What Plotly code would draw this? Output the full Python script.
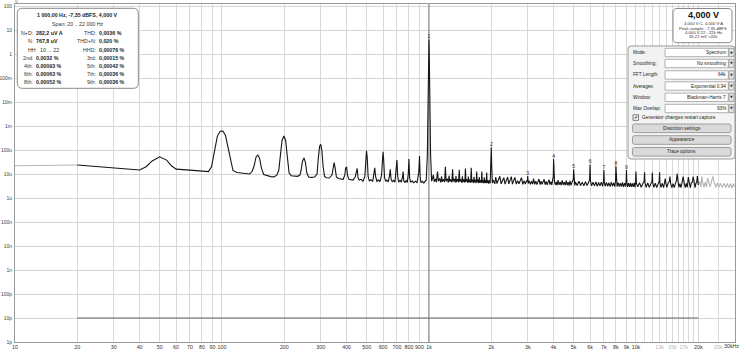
import plotly.graph_objects as go

# ---------------- data ----------------
# out-of-band part below 20 Hz (light grey)
oob_low_hz = [10, 12, 14, 17, 20]
oob_low_uv = [22, 22.5, 23, 23.5, 23.7]

# in-band, 20 Hz .. ~960 Hz
lf_hz = [20, 25, 30, 35, 40, 43, 46, 50, 54, 57, 60, 70, 80, 86, 89, 92, 95, 98, 101, 104, 107, 110, 113, 118,
         128, 136, 140, 143, 146, 149, 152, 155, 159, 165, 172, 178, 184, 188, 191, 195, 199, 203, 207, 211, 216,
         225, 232, 238, 241, 245, 249, 253, 257, 262, 270, 280, 288, 292, 296, 300, 304, 308, 313, 320, 330, 340,
         344, 348, 352, 357, 365, 375, 385, 392, 396, 400, 404, 410, 420, 430, 440, 446, 450, 454, 460, 470, 480,
         490, 495, 499, 503, 508, 515, 525, 535, 542, 547, 552, 560, 570, 580, 590, 596, 600, 604, 610, 618, 625,
         635, 644, 650, 656, 665, 675, 685, 694, 700, 706, 714, 725, 735, 744, 750, 756, 765, 775, 785, 794, 800,
         806, 815, 830, 845, 860, 875, 893, 900, 907, 915, 930, 945, 958]
lf_uv = [23.7, 20.5, 18.7, 17.2, 14.7, 20, 35, 52, 38, 22, 16, 14.5, 13.3, 12.6, 20, 90, 380, 600, 620, 400, 130, 35,
         14, 11.5, 10.7, 10, 13, 22, 50, 62, 45, 18, 9.5, 8.5, 7.8, 7.6, 9, 14, 60, 250, 383, 250, 50, 11, 8.5,
         8.5, 8.0, 9, 14, 35, 47, 30, 11, 7.5, 7.2, 7.5, 10, 45, 140, 173, 90, 20, 8, 7.0, 6.8, 9,
         20, 30, 18, 7.5, 6.5, 6.2, 6.0, 9, 18, 20, 9, 6.0, 5.8, 5.6, 7.5, 14, 17, 7, 5.6, 6.0, 5.0,
         8, 60, 93, 50, 8, 5.2, 5.8, 4.9, 9, 18, 8, 5.0, 5.6, 4.8, 9, 60, 85, 40, 7, 4.9, 5.6,
         4.7, 8, 15.8, 6, 4.8, 5.4, 4.6, 12, 38, 8, 4.6, 5.4, 4.6, 7, 12.6, 5.0, 4.5, 5.3, 4.4, 10, 42,
         7, 4.5, 5.2, 4.3, 5.0, 4.3, 12, 56, 7, 4.4, 5.0, 4.2, 5.0]

# fundamental, 1 kHz
fund_hz = [970, 982, 990, 995, 1000, 1005, 1010, 1018, 1030]
fund_uv = [5.5, 60, 4000, 300000, 4000000, 300000, 4000, 60, 5.0]

# in-band, ~1 kHz .. 20 kHz (noise floor with harmonics and side spurs)
hf_hz = [1040, 1050, 1060, 1075, 1085, 1100, 1110, 1125, 1140, 1150, 1160, 1175, 1190, 1200, 1210, 1225, 1240, 1250,
         1260, 1275, 1290, 1300, 1310, 1325, 1340, 1350, 1360, 1375, 1390, 1400, 1410, 1425, 1440, 1450, 1460,
         1475, 1490, 1500, 1510, 1525, 1540, 1550, 1560, 1575, 1590, 1600, 1610, 1625, 1640, 1650, 1660, 1675,
         1690, 1700, 1710, 1725, 1740, 1750, 1760, 1775, 1790, 1800, 1810, 1825, 1840, 1850, 1860, 1875, 1890,
         1900, 1910, 1925, 1940, 1960, 1975, 1990, 2000, 2010, 2025,
         2040, 2080, 2100, 2130, 2160, 2200, 2230, 2260, 2300, 2330, 2360, 2400, 2430, 2460, 2500, 2530, 2560,
         2600, 2640, 2680, 2720, 2760, 2800, 2840, 2880, 2920, 2960, 2985, 3000, 3015, 3050, 3090, 3130, 3170,
         3200, 3240, 3280, 3320, 3360, 3400, 3440, 3480, 3520, 3560, 3600, 3640, 3680, 3720, 3760, 3800, 3840,
         3880, 3920, 3960, 3985, 4000, 4015, 4040, 4080, 4120, 4160, 4200, 4250, 4300, 4350, 4400, 4450, 4500,
         4550, 4600, 4650, 4700, 4750, 4800, 4850, 4900, 4980, 5000, 5020, 5060,
         5100, 5200, 5300, 5400, 5500, 5600, 5700, 5800, 5900, 5970, 6000, 6030, 6100, 6200, 6300, 6400, 6500,
         6600, 6700, 6800, 6900, 6970, 7000, 7030, 7100, 7200, 7300, 7400, 7500, 7600, 7700, 7800, 7900, 7965,
         8000, 8035, 8100, 8200, 8300, 8400, 8500, 8600, 8700, 8800, 8900, 8960, 9000, 9040, 9100, 9200, 9300,
         9400, 9500, 9600, 9700, 9800, 9900, 9955, 10000, 10045,
         10200, 10400, 10600, 10800, 10950, 11000, 11050, 11200, 11400, 11600, 11800, 11950, 12000, 12050, 12200,
         12400, 12600, 12800, 12950, 13000, 13050, 13200, 13400, 13600, 13750, 13850, 13950, 14100, 14300, 14500,
         14600, 14700, 14900, 15100, 15300, 15500, 15700, 15800, 15900, 16100, 16300, 16500, 16700, 16900, 17100,
         17300, 17500, 17700, 17900, 18100, 18300, 18500, 18700, 18900, 19100, 19300, 19500, 19650, 19800, 19950,
         20000]
hf_uv = [6.5, 9.1, 4.8, 6.2, 4.6, 12.6, 5.0, 6.5, 4.5, 8.0, 4.7, 6.0, 4.6, 20, 5.0, 6.4, 4.4, 8.5,
         4.8, 6.0, 4.5, 15.8, 4.9, 6.3, 4.4, 8.3, 4.6, 6.1, 4.5, 15, 4.8, 6.0, 4.3, 8.0, 4.6,
         5.9, 4.4, 17, 4.7, 6.0, 4.3, 7.8, 4.5, 5.8, 4.3, 18, 4.6, 5.9, 4.2, 7.6, 4.5, 5.7,
         4.2, 12.6, 4.5, 5.8, 4.2, 7.5, 4.4, 5.6, 4.2, 12.6, 4.4, 5.6, 4.1, 7.2, 4.3, 5.5, 4.1,
         11.5, 4.3, 5.5, 4.0, 5.6, 4.1, 20, 129, 20, 4.2,
         5.6, 3.9, 7.5, 4.0, 5.5, 8.0, 3.9, 5.4, 7.0, 3.8, 5.5, 7.5, 3.9, 5.3, 7.8, 3.8, 5.4,
         7.2, 3.8, 5.2, 3.9, 5.3, 7.0, 3.7, 5.2, 3.8, 5.1, 5.0, 8.3, 4.0, 5.2, 3.7, 5.0, 3.8,
         6.5, 3.7, 5.0, 3.6, 5.1, 6.2, 3.6, 5.0, 3.7, 4.9, 6.0, 3.6, 4.9, 3.5, 4.8, 5.8, 3.6,
         4.8, 3.5, 5.0, 8, 42, 8, 4.8, 3.5, 4.7, 3.4, 5.6, 3.5, 4.7, 3.4, 5.4, 3.5, 4.6,
         3.4, 5.3, 3.4, 4.6, 3.3, 5.2, 3.4, 4.5, 6, 15.8, 5, 3.3,
         4.6, 3.3, 5.0, 3.3, 4.5, 3.2, 4.8, 3.3, 4.4, 6, 25, 5, 3.2, 4.5, 3.2, 4.7, 3.1,
         4.4, 3.2, 4.6, 3.1, 5, 14.7, 4.5, 3.1, 4.5, 3.1, 4.3, 3.0, 4.6, 3.1, 4.3, 3.0, 5,
         21.5, 4.5, 3.0, 4.4, 3.0, 4.2, 3.0, 4.5, 2.9, 4.2, 3.0, 5, 14.7, 4.4, 2.9, 4.2, 2.9,
         4.3, 2.9, 4.1, 2.9, 4.3, 2.8, 5, 12.6, 4.2,
         2.9, 4.3, 2.8, 4.0, 5, 11.7, 4.5, 2.8, 4.2, 2.8, 4.0, 5, 11.4, 4.4, 2.8,
         4.1, 2.7, 4.0, 5, 11.7, 4.3, 2.8, 4.1, 2.7, 4.5, 6.5, 4.0, 2.8, 4.1, 5,
         7.8, 4.2, 2.7, 4.0, 2.7, 4.3, 5.5, 10.3, 5, 2.8, 4.0, 2.7, 4.5, 7.8, 4.2,
         2.7, 4.1, 2.8, 7.4, 4.0, 2.7, 4.2, 4.5, 7.8, 4.1, 2.7, 4.2, 4.5, 8.3, 4.0,
         3.5]

# out-of-band part above 20 kHz (light grey)
oob_high_hz = [20000, 20300, 20600, 20800, 21000, 21300, 21600, 21900, 22200, 22500, 22800, 23100, 23500, 23900,
               24300, 24700, 25100, 25600, 26100, 26600, 27100, 27600, 28100, 28600, 29100, 29600, 30000]
oob_high_uv = [3.5, 4.8, 2.9, 8, 4.5, 2.8, 4.6, 2.9, 6.8, 4.5, 2.9, 4.4, 8, 4.3,
               2.8, 4.2, 2.8, 4.1, 2.7, 4.1, 2.7, 4.0, 2.7, 4.0, 2.6, 3.9, 3.0]

# second (reference) trace at 10 pV, 20 Hz .. 20 kHz
ref_hz = [20, 20000]
ref_v = [1e-11, 1e-11]

# harmonic markers
harm_no = ["1", "2", "3", "4", "5", "6", "7", "8", "9"]
harm_hz = [1000, 2000, 3000, 4000, 5000, 6000, 7000, 8000, 9000]
harm_uv = [4000000, 129, 8.3, 42, 15.8, 25, 14.7, 21.5, 14.7]

cursor_hz = 1000

# axis ticks
y_tick_v = [1e-12, 1e-11, 1e-10, 1e-9, 1e-8, 1e-7, 1e-6, 1e-5, 1e-4, 1e-3, 1e-2, 1e-1, 1, 10, 100]
y_tick_text = ["1p", "10p", "100p", "1n", "10n", "100n", "1u", "10u", "100u", "1m", "10m", "100m", "1", "10", "100"]
x_tick_hz = [10, 20, 30, 40, 50, 60, 70, 80, 90, 100, 200, 300, 400, 500, 600, 700, 800, 900,
             1000, 2000, 3000, 4000, 5000, 6000, 7000, 8000, 9000, 10000, 11000, 12000, 13000, 14000,
             15000, 16000, 17000, 18000, 19000, 20000, 25000, 30000]
x_tick_text = ["10", "20", "30", "40", "50", "60", "70", "80", "90", "100", "200", "300", "400", "500", "600",
               "700", "800", "900", "1k", "2k", "3k", "4k", "5k", "6k", "7k", "8k", "9k", "10k", "", "",
               "13k", "", "15k", "", "17k", "", "", "20k", "25k", ""]
x_tick_faint = ["13k", "15k", "17k", "25k"]
x_end_label = "30kHz"

# info box texts
info_title = "1 000,00 Hz, -7,35 dBFS, 4,000 V"
info_span = "Span: 20 .. 22 000 Hz"
info_left_lbl = ["N+D:", "N:", "HH", "2nd:", "4th:", "6th:", "8th:"]
info_left_val = ["282,2 uV A", "767,8 uV", "10 ... 22", "0,0032 %", "0,00093 %", "0,00063 %", "0,00052 %"]
info_right_lbl = ["THD:", "THD+N:", "HHD:", "3rd:", "5th:", "7th:", "9th:"]
info_right_val = ["0,0036 %", "0,020 %", "0,00076 %", "0,00015 %", "0,00042 %", "0,00036 %", "0,00036 %"]

meter_main = "4,000 V"
meter_lines = ["4,000 V C, 4,000 V A", "Peak sample: -7,35 dBFS", "4,000 V 22 - 22k Hz", "45,21 mV >20k"]

ctrl_labels = ["Mode:", "Smoothing:", "FFT Length:", "Averages:", "Window:", "Max Overlap:"]
ctrl_values = ["Spectrum", "No smoothing", "64k", "Exponential 0.94", "Blackman-Harris 7", "93%"]
checkbox_text = "Generator changes restart capture"
buttons = ["Distortion settings", "Appearance", "Trace options"]

# ---------------- layout helpers ----------------
FIG_W, FIG_H = 740, 351
ML, MR, MT, MB = 15, 5, 4, 9
PW, PH = FIG_W - ML - MR, FIG_H - MT - MB
FONT = "Liberation Sans, Arial, sans-serif"


def px(x):
    return (x - ML) / PW


def py(y):
    return (FIG_H - MB - y) / PH


shapes = []
annotations = []


def rrect(x0, y0, x1, y1, r, fill, line, lw=1):
    pts = [
        ("M", (x0 + r, y0)), ("L", (x1 - r, y0)), ("Q", (x1, y0), (x1, y0 + r)),
        ("L", (x1, y1 - r)), ("Q", (x1, y1), (x1 - r, y1)), ("L", (x0 + r, y1)),
        ("Q", (x0, y1), (x0, y1 - r)), ("L", (x0, y0 + r)), ("Q", (x0, y0), (x0 + r, y0)),
    ]
    path = ""
    for cmd, *ps in pts:
        path += cmd + " " + " ".join(f"{px(a):.5f},{py(b):.5f}" for a, b in ps) + " "
    path += "Z"
    shapes.append(dict(type="path", path=path, xref="paper", yref="paper",
                       fillcolor=fill, line=dict(color=line, width=lw), layer="above"))


def text(t, x, y, size=5, anchor="left", bold=False, color="#222", family=FONT):
    if bold:
        t = "<b>" + t + "</b>"
    annotations.append(dict(text=t, x=px(x), y=py(y), xref="paper", yref="paper", xanchor=anchor,
                            yanchor="middle", showarrow=False, borderpad=0,
                            font=dict(size=size, color=color, family=family)))


# ---------------- figure ----------------
fig = go.Figure()

uv = 1e-6
fig.add_trace(go.Scatter(x=oob_low_hz, y=[v * uv for v in oob_low_uv], mode="lines",
                         line=dict(color="#b4b4b4", width=1.1), hoverinfo="skip"))
fig.add_trace(go.Scatter(x=oob_high_hz, y=[v * uv for v in oob_high_uv], mode="lines",
                         line=dict(color="#b4b4b4", width=1.1), hoverinfo="skip"))
fig.add_trace(go.Scatter(x=ref_hz, y=ref_v, mode="lines", line=dict(color="#666666", width=1),
                         hoverinfo="skip"))
fig.add_trace(go.Scatter(x=[cursor_hz, cursor_hz], y=[y_tick_v[0], y_tick_v[-1] * 1.3], mode="lines",
                         line=dict(color="#7a7a7a", width=1), hoverinfo="skip"))
band_hz = lf_hz + fund_hz + hf_hz
band_uv = lf_uv + fund_uv + hf_uv
fig.add_trace(go.Scatter(x=band_hz, y=[v * uv for v in band_uv], mode="lines",
                         line=dict(color="#151515", width=1.1), hoverinfo="skip"))
fig.add_trace(go.Scatter(x=harm_hz, y=[v * uv for v in harm_uv], mode="text", text=harm_no,
                         textposition="top center", textfont=dict(size=5, color="#222", family=FONT),
                         hoverinfo="skip"))

# info box (top-left)
rrect(17.3, 8.3, 138.3, 88.3, 5, "white", "#8a8a8a")
text(info_title, 77.5, 15, size=5.3, anchor="center", bold=True)
text(info_span, 78, 24, size=5.3, anchor="center", color="#333")
rows_y = [32.7, 41, 49.7, 58, 66, 74, 82.3]
for i, yy in enumerate(rows_y):
    if info_left_lbl[i] == "HH":
        text(info_left_lbl[i], 36.5, yy, size=5.3, anchor="right", color="#333")
        text(info_left_val[i], 38.5, yy, size=5.3, anchor="left", color="#333")
    else:
        text(info_left_lbl[i], 34, yy, size=5.3, anchor="right", color="#333")
        text(info_left_val[i], 35.3, yy, size=5.3, anchor="left", bold=True)
    text(info_right_lbl[i], 97, yy, size=5.3, anchor="right", color="#333")
    text(info_right_val[i], 98.3, yy, size=5.3, anchor="left", bold=True)

# meter box (top-right)
rrect(673, 8.5, 732, 42.7, 4, "white", "#8a8a8a")
text(meter_main, 703, 15, size=9, anchor="center", bold=True, color="#111")
for yy, t in zip([24, 28.3, 32.3, 36.7], meter_lines):
    text(t, 703, yy, size=4.2, anchor="center", color="#333")

# control panel
rrect(628, 46, 735, 159, 3, "#f3f3f3", "#9a9a9a")
ctrl_y = [52.5, 63.5, 75, 86, 97.3, 108.5]
for yy, lab, val in zip(ctrl_y, ctrl_labels, ctrl_values):
    text(lab, 631.7, yy, size=4.7, anchor="left", color="#222")
    shapes.append(dict(type="rect", xref="paper", yref="paper", x0=px(665), x1=px(728.3),
                       y0=py(yy + 4.2), y1=py(yy - 4.2), fillcolor="white",
                       line=dict(color="#b0b0b0", width=1), layer="above"))
    shapes.append(dict(type="rect", xref="paper", yref="paper", x0=px(728.8), x1=px(734),
                       y0=py(yy + 4.2), y1=py(yy - 4.2), fillcolor="#e4e4e4",
                       line=dict(color="#a0a0a0", width=1), layer="above"))
    text(val, 726.8, yy, size=4.7, anchor="right", color="#222")
    text("▼", 731.4, yy, size=3.5, anchor="center", color="#333", family="DejaVu Sans")
shapes.append(dict(type="rect", xref="paper", yref="paper", x0=px(633), x1=px(638.5),
                   y0=py(120.3), y1=py(114.8), fillcolor="white", line=dict(color="#777", width=1),
                   layer="above"))
text("✔", 635.8, 117.4, size=5, anchor="center", color="#222", family="DejaVu Sans")
text(checkbox_text, 640.5, 117.5, size=4.8, anchor="left", color="#222")
for yy, lab in zip([128.3, 140, 151.8], buttons):
    rrect(632.5, yy - 4.3, 731, yy + 4.3, 2, "#dadada", "#9c9c9c")
    text(lab, 681.5, yy, size=4.7, anchor="center", color="#222")

# unit label
text("V", 16, 1.8, size=4, anchor="center", color="#555")
# end label of the frequency axis (kept inside the page)
text(x_end_label, 739.5, 346.3, size=5.3, anchor="right", color="#333")

x_text = []
for t in x_tick_text:
    if t in x_tick_faint:
        x_text.append(f"<span style='color:#b5b5b5'>{t}</span>")
    else:
        x_text.append(t)

fig.update_layout(
    width=FIG_W, height=FIG_H,
    margin=dict(l=ML, r=MR, t=MT, b=MB, autoexpand=False),
    paper_bgcolor="white", plot_bgcolor="white",
    showlegend=False,
    shapes=shapes, annotations=annotations,
    font=dict(family=FONT, size=5.5, color="#333"),
)
fig.update_xaxes(type="log", range=[1, 4.4784], tickvals=x_tick_hz, ticktext=x_text, tickangle=0,
                 showgrid=True, gridcolor="#d9d9d9", gridwidth=1, zeroline=False,
                 showline=True, linecolor="#9a9a9a", linewidth=1, mirror=True,
                 ticks="", tickfont=dict(size=5.3, color="#333", family=FONT), automargin=False,
                 ticklabelstandoff=0, fixedrange=True)
fig.update_yaxes(type="log", range=[-12, 2.0833], tickvals=y_tick_v, ticktext=y_tick_text,
                 showgrid=True, gridcolor="#d4d4d4", gridwidth=1, zeroline=False,
                 showline=True, linecolor="#9a9a9a", linewidth=1, mirror=True,
                 ticks="", tickfont=dict(size=5, color="#444", family=FONT), automargin=False,
                 ticklabelstandoff=1, fixedrange=True)

fig.write_html("out.html")
